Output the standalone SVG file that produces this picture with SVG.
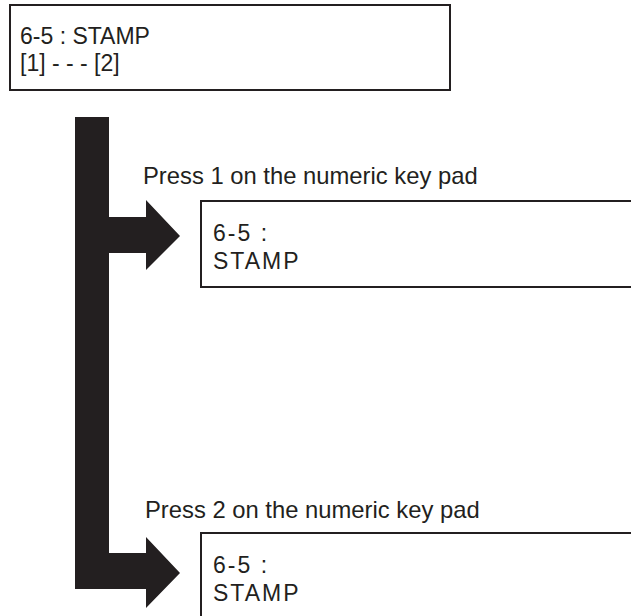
<svg xmlns="http://www.w3.org/2000/svg" width="631" height="616" viewBox="0 0 631 616">
<style>
.box{fill:#fff;stroke:#231f20;stroke-width:2}
.t{font-family:"Liberation Sans",Arial,sans-serif;font-size:23px;fill:#231f20}
.tp{font-family:"Liberation Sans",Arial,sans-serif;font-size:23.8px;fill:#231f20}
.ts{font-family:"Liberation Sans",Arial,sans-serif;font-size:23px;fill:#231f20;letter-spacing:2px}
.arr{fill:#231f20}
</style>
<rect width="631" height="616" fill="#fff"/>
<g id="menu">
<rect class="box" x="10" y="5" width="440" height="85"/>
<text class="t" x="20" y="44">6-5 : STAMP</text>
<text class="t" x="20" y="71">[1] - - - [2]</text>
</g>
<g id="connectors">
<path class="arr" d="M75,117 H109 V217 H146 V200 L180,236 L146,270 V253 H109 V553 H146 V537 L180,573 L146,608 V589 H75 Z"/>
<text class="tp" x="143" y="184">Press 1 on the numeric key pad</text>
<text class="tp" x="145" y="518">Press 2 on the numeric key pad</text>
</g>
<g id="option1">
<rect class="box" x="201" y="201" width="450" height="86"/>
<text class="ts" x="213" y="241">6-5 :</text>
<text class="ts" x="213" y="269">STAMP</text>
</g>
<g id="option2">
<rect class="box" x="201" y="533" width="450" height="120"/>
<text class="ts" x="213" y="573">6-5 :</text>
<text class="ts" x="213" y="601">STAMP</text>
</g>
</svg>
